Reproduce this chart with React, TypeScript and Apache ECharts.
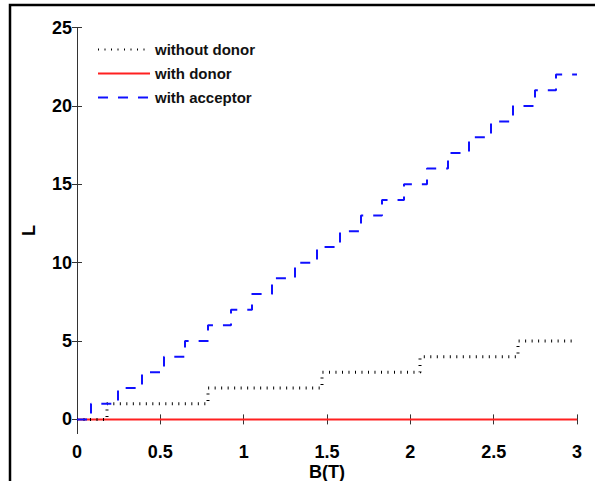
import React, { useEffect, useRef } from "react";
import * as echarts from "echarts";

// B(T) at which each step up happens, and the level L after the step
const acceptorSteps = [0.084, 0.246, 0.39, 0.522, 0.648, 0.786, 0.924, 1.05, 1.17, 1.308, 1.44, 1.578, 1.704, 1.83, 1.962, 2.1, 2.226, 2.352, 2.484, 2.616, 2.748, 2.874];
const acceptorLevels = [1, 2, 3, 4, 5, 6, 7, 8, 9, 10, 11, 12, 13, 14, 15, 16, 17, 18, 19, 20, 21, 22];
const withoutDonorSteps = [0.18, 0.786, 1.47, 2.058, 2.646];
const withoutDonorLevels = [1, 2, 3, 4, 5];
const donorB = [0, 3];
const donorL = [0, 0];
const xTicks = [0, 0.5, 1, 1.5, 2, 2.5, 3];
const yTicks = [0, 5, 10, 15, 20, 25];
const seriesNames = ["without donor", "with donor", "with acceptor"];

function stepData(steps: number[], levels: number[]) {
  const d: number[][] = [[0, 0]];
  steps.forEach((b, i) => d.push([b, levels[i]]));
  d.push([3, levels[levels.length - 1]]);
  return d;
}

export default function App() {
  const ref = useRef<HTMLDivElement>(null);
  useEffect(() => {
    document.body.style.margin = "0";
    if (!ref.current) return;
    const chart = echarts.init(ref.current, null, { renderer: "svg", width: 595, height: 481 });
    const font = "'Liberation Sans', Arial, Helvetica, sans-serif";
    const axisColor = "#333";
    const labelStyle = { color: "#000", fontFamily: font, fontWeight: "bold" as const, fontSize: 18 };
    chart.setOption({
      animation: false,
      backgroundColor: "#fff",
      textStyle: { fontFamily: font },
      grid: { left: 77, right: 18, top: 27.5, bottom: 47.5, containLabel: false, outerBoundsMode: "none" },
      legend: {
        data: seriesNames,
        orient: "vertical",
        left: 97,
        top: 42,
        itemWidth: 52,
        itemHeight: 14,
        itemGap: 9,
        padding: 0,
        itemStyle: { opacity: 0 },
        textStyle: { color: "#111", fontFamily: font, fontWeight: "bold", fontSize: 15 },
      },
      xAxis: [
        {
          type: "value", min: 0, max: 3, interval: 0.5, position: "bottom",
          axisLine: { show: true, lineStyle: { color: axisColor, width: 1 } },
          axisTick: { show: true, inside: true, length: 5, lineStyle: { color: axisColor } },
          axisLabel: { ...labelStyle, margin: 9, formatter: (v: number) => String(v), customValues: xTicks },
          splitLine: { show: false },
          name: "B(T)", nameLocation: "middle", nameGap: 29, nameMoveOverlap: false,
          nameTextStyle: { ...labelStyle },
        },
        {
          type: "value", min: 0, max: 3, interval: 0.5, position: "top",
          axisLine: { show: true, lineStyle: { color: axisColor, width: 1 } },
          axisTick: { show: true, inside: true, length: 5, lineStyle: { color: axisColor } },
          axisLabel: { show: false },
          splitLine: { show: false },
        },
      ],
      yAxis: [
        {
          type: "value", min: -0.9, max: 25, position: "left",
          axisLine: { show: true, lineStyle: { color: axisColor, width: 1 } },
          axisTick: { show: true, inside: true, length: 5, lineStyle: { color: axisColor }, customValues: yTicks },
          axisLabel: { ...labelStyle, margin: 5, customValues: yTicks },
          splitLine: { show: false },
          name: "L", nameLocation: "middle", nameGap: 39, nameRotate: 90, nameMoveOverlap: false,
          nameTextStyle: { ...labelStyle },
        },
        {
          type: "value", min: -0.9, max: 25, position: "right",
          axisLine: { show: true, lineStyle: { color: axisColor, width: 1 } },
          axisTick: { show: true, inside: true, length: 5, lineStyle: { color: axisColor }, customValues: yTicks },
          axisLabel: { show: false },
          splitLine: { show: false },
        },
      ],
      series: [
        {
          name: seriesNames[0], type: "line", step: "end", symbol: "none", z: 3,
          data: stepData(withoutDonorSteps, withoutDonorLevels),
          lineStyle: { color: "#000", width: 3, type: [1, 5.5], cap: "butt" },
          itemStyle: { color: "#000" },
        },
        {
          name: seriesNames[1], type: "line", symbol: "none", z: 2,
          data: donorB.map((b, i) => [b, donorL[i]]),
          lineStyle: { color: "#ff2020", width: 2, type: "solid" },
          itemStyle: { color: "#ff2020" },
        },
        {
          name: seriesNames[2], type: "line", step: "end", symbol: "none", z: 4,
          data: stepData(acceptorSteps, acceptorLevels),
          lineStyle: { color: "#1010ff", width: 2, type: [10, 10] },
          itemStyle: { color: "#1010ff" },
        },
      ],
      graphic: [
        {
          type: "polyline",
          shape: { points: [[10, 481], [10, 5], [595, 5]] },
          style: { stroke: "#000", lineWidth: 2.5, fill: "none" },
          silent: true,
        },
      ],
    });
    return () => chart.dispose();
  }, []);
  return (
    <div
      ref={ref}
      style={{ position: "absolute", left: 0, top: 0, width: 595, height: 481, background: "#fff" }}
    />
  );
}
